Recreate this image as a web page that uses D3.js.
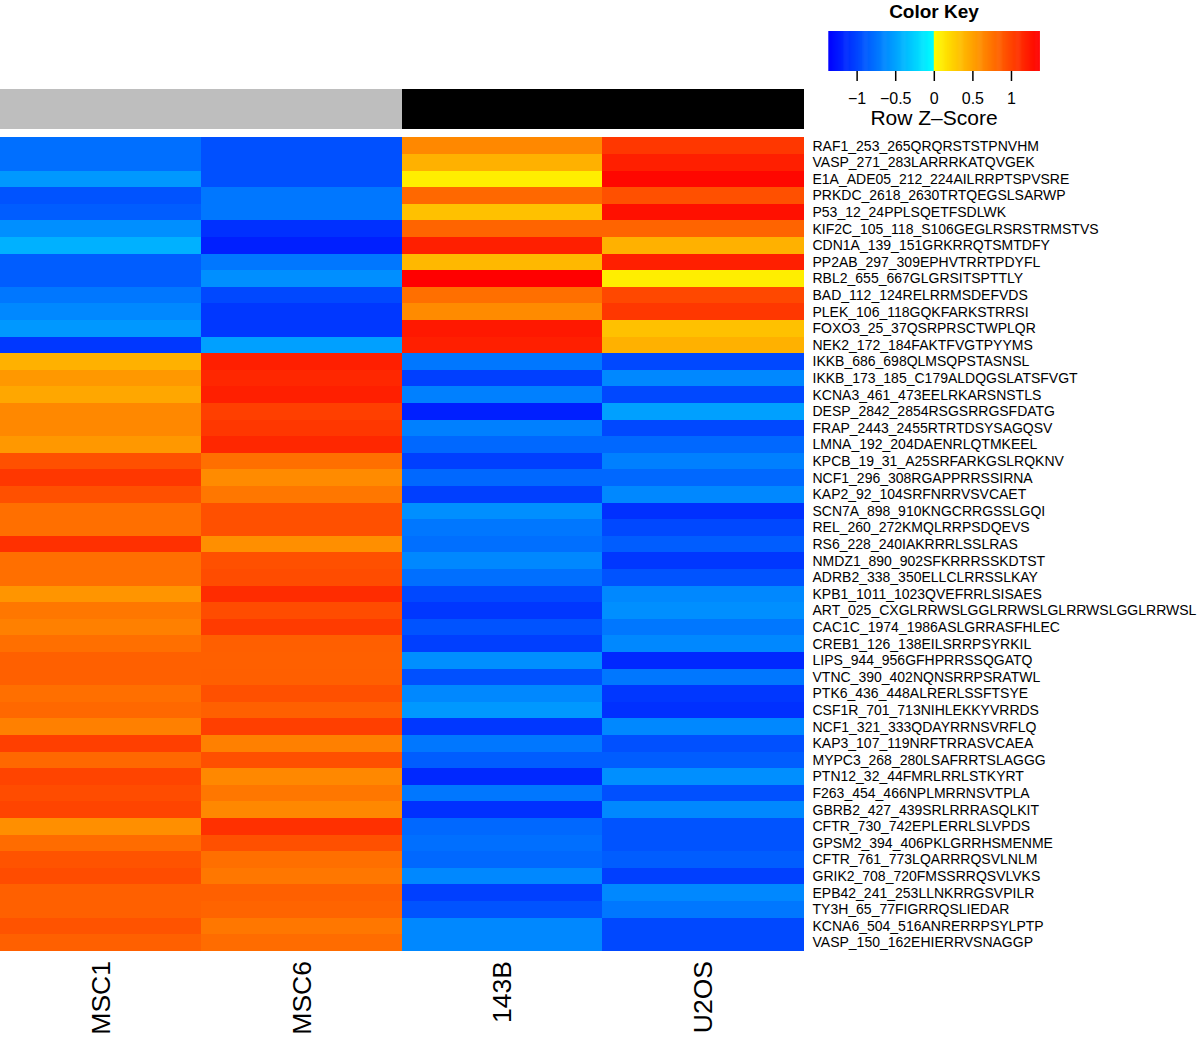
<!DOCTYPE html>
<html>
<head>
<meta charset="utf-8">
<script src="https://cdn.jsdelivr.net/npm/d3@7"></script>
<style>
  html, body { margin: 0; padding: 0; background: #fff; }
  svg { display: block; font-family: "Liberation Sans", Arial, Helvetica, sans-serif; }
</style>
</head>
<body>
<svg id="chart" width="1200" height="1038"></svg>
<script>
// ---------- data ----------
const columns = ["MSC1", "MSC6", "143B", "U2OS"];
const columnGroups = ["MSC", "MSC", "OS", "OS"];

const rowLabels = [
  "RAF1_253_265QRQRSTSTPNVHM",
  "VASP_271_283LARRRKATQVGEK",
  "E1A_ADE05_212_224AILRRPTSPVSRE",
  "PRKDC_2618_2630TRTQEGSLSARWP",
  "P53_12_24PPLSQETFSDLWK",
  "KIF2C_105_118_S106GEGLRSRSTRMSTVS",
  "CDN1A_139_151GRKRRQTSMTDFY",
  "PP2AB_297_309EPHVTRRTPDYFL",
  "RBL2_655_667GLGRSITSPTTLY",
  "BAD_112_124RELRRMSDEFVDS",
  "PLEK_106_118GQKFARKSTRRSI",
  "FOXO3_25_37QSRPRSCTWPLQR",
  "NEK2_172_184FAKTFVGTPYYMS",
  "IKKB_686_698QLMSQPSTASNSL",
  "IKKB_173_185_C179ALDQGSLATSFVGT",
  "KCNA3_461_473EELRKARSNSTLS",
  "DESP_2842_2854RSGSRRGSFDATG",
  "FRAP_2443_2455RTRTDSYSAGQSV",
  "LMNA_192_204DAENRLQTMKEEL",
  "KPCB_19_31_A25SRFARKGSLRQKNV",
  "NCF1_296_308RGAPPRRSSIRNA",
  "KAP2_92_104SRFNRRVSVCAET",
  "SCN7A_898_910KNGCRRGSSLGQI",
  "REL_260_272KMQLRRPSDQEVS",
  "RS6_228_240IAKRRRLSSLRAS",
  "NMDZ1_890_902SFKRRRSSKDTST",
  "ADRB2_338_350ELLCLRRSSLKAY",
  "KPB1_1011_1023QVEFRRLSISAES",
  "ART_025_CXGLRRWSLGGLRRWSLGLRRWSLGGLRRWSL",
  "CAC1C_1974_1986ASLGRRASFHLEC",
  "CREB1_126_138EILSRRPSYRKIL",
  "LIPS_944_956GFHPRRSSQGATQ",
  "VTNC_390_402NQNSRRPSRATWL",
  "PTK6_436_448ALRERLSSFTSYE",
  "CSF1R_701_713NIHLEKKYVRRDS",
  "NCF1_321_333QDAYRRNSVRFLQ",
  "KAP3_107_119NRFTRRASVCAEA",
  "MYPC3_268_280LSAFRRTSLAGGG",
  "PTN12_32_44FMRLRRLSTKYRT",
  "F263_454_466NPLMRRNSVTPLA",
  "GBRB2_427_439SRLRRRASQLKIT",
  "CFTR_730_742EPLERRLSLVPDS",
  "GPSM2_394_406PKLGRRHSMENME",
  "CFTR_761_773LQARRRQSVLNLM",
  "GRIK2_708_720FMSSRRQSVLVKS",
  "EPB42_241_253LLNKRRGSVPILR",
  "TY3H_65_77FIGRRQSLIEDAR",
  "KCNA6_504_516ANRERRPSYLPTP",
  "VASP_150_162EHIERRVSNAGGP"
];

// Row Z-scores per sample column
const zMSC1 = [-0.77,-0.77,-0.55,-0.92,-0.87,-0.60,-0.42,-0.87,-0.87,-0.73,-0.64,-0.55,-1.07,
  0.42,0.55,0.47,0.64,0.64,0.55,0.94,1.07,0.94,0.77,0.77,1.11,0.77,0.77,0.57,0.73,0.68,0.77,
  0.85,0.85,0.77,0.81,0.68,1.03,0.81,1.00,0.96,1.00,0.60,0.79,0.92,0.96,0.85,0.85,0.92,0.85];
const zMSC6 = [-0.94,-0.94,-0.94,-0.73,-0.73,-1.11,-1.20,-0.73,-0.60,-0.98,-1.07,-1.07,-0.51,
  1.20,1.16,1.20,1.03,1.07,1.16,0.77,0.62,0.73,0.94,0.94,0.60,0.94,0.96,1.13,0.96,1.05,0.86,
  0.85,0.86,0.94,0.85,1.03,0.68,0.94,0.64,0.73,0.64,1.11,0.94,0.77,0.73,0.85,0.83,0.73,0.79];
const z143B = [0.64,0.42,0.09,0.81,0.33,0.83,1.20,0.38,1.37,0.77,0.62,1.24,1.20,
  -0.73,-1.03,-0.68,-1.20,-0.68,-0.81,-1.03,-0.81,-1.03,-0.60,-0.73,-0.77,-0.64,-0.77,-0.98,-1.07,-0.92,-1.03,
  -0.60,-0.94,-0.64,-0.55,-1.07,-0.73,-0.87,-1.15,-0.73,-1.11,-0.81,-0.77,-0.81,-0.64,-1.03,-0.92,-0.64,-0.64];
const zU2OS = [1.07,1.20,1.33,0.94,1.28,0.83,0.42,1.20,0.09,0.98,1.07,0.33,0.42,
  -0.98,-0.64,-0.98,-0.51,-0.98,-0.81,-0.68,-0.81,-0.64,-1.11,-0.98,-0.87,-1.07,-0.92,-0.64,-0.60,-0.73,-0.64,
  -1.15,-0.73,-1.07,-1.11,-0.64,-0.94,-0.87,-0.60,-0.94,-0.64,-0.92,-0.92,-0.87,-1.03,-0.64,-0.73,-0.98,-0.98];

const keyTicks = [-1, -0.5, 0, 0.5, 1];
const keyRange = [-1.367, 1.367];

// ---------- drawing ----------
const svg = d3.select("#chart");
const series = [zMSC1, zMSC6, z143B, zU2OS];

const hm = { x0: 0, x1: 803, y0: 137.3, y1: 950.7 };

const x = d3.scaleBand().domain(columns).range([hm.x0, hm.x1]).paddingInner(0).paddingOuter(0);
const y = d3.scaleBand().domain(rowLabels).range([hm.y0, hm.y1]).paddingInner(0).paddingOuter(0);

const negScale = d3.scaleLinear().domain([keyRange[0], 0]).range(["#0000ff", "#00ffff"]).clamp(true);
const posScale = d3.scaleLinear().domain([0, keyRange[1]]).range(["#ffff00", "#ff0000"]).clamp(true);
const color = v => (v < 0 ? negScale(v) : posScale(v));

const groupColor = d3.scaleOrdinal().domain(["MSC", "OS"]).range(["#bebebe", "#000000"]);

// side colour bar
svg.append("g").selectAll("rect")
  .data(columns)
  .join("rect")
  .attr("x", d => x(d))
  .attr("y", 89)
  .attr("width", x.bandwidth() + 1)
  .attr("height", 40.3)
  .attr("fill", (d, i) => groupColor(columnGroups[i]))
  .attr("shape-rendering", "crispEdges");

// heatmap cells
const cells = [];
columns.forEach((c, ci) => {
  rowLabels.forEach((r, ri) => cells.push({ col: c, row: r, v: series[ci][ri] }));
});
svg.append("g").selectAll("rect")
  .data(cells)
  .join("rect")
  .attr("x", d => x(d.col))
  .attr("y", d => y(d.row))
  .attr("width", x.bandwidth() + 0.5)
  .attr("height", y.bandwidth() + 0.5)
  .attr("fill", d => color(d.v))
  .attr("shape-rendering", "crispEdges");

// row labels
svg.append("g").selectAll("text")
  .data(rowLabels)
  .join("text")
  .attr("x", 812.5)
  .attr("y", d => y(d) + y.bandwidth() / 2)
  .attr("dy", "0.36em")
  .attr("font-size", 14)
  .attr("fill", "#000")
  .text(d => d);

// column labels
const colFs = 26.5;
svg.append("g").selectAll("text")
  .data(columns)
  .join("text")
  .attr("transform", d => `translate(${x(d) + x.bandwidth() / 2 + colFs * 0.36},961) rotate(-90)`)
  .attr("text-anchor", "end")
  .attr("font-size", colFs)
  .attr("fill", "#000")
  .text(d => d);

// colour key
const kx = d3.scaleLinear().domain(keyRange).range([828.3, 1039.3]);
const key = svg.append("g");
const steps = d3.range(0, 200).map(i => keyRange[0] + (keyRange[1] - keyRange[0]) * (i + 0.5) / 200);
const stepW = (kx.range()[1] - kx.range()[0]) / 200;
key.selectAll("rect.k")
  .data(steps)
  .join("rect")
  .attr("class", "k")
  .attr("x", d => kx(d) - stepW / 2)
  .attr("y", 31)
  .attr("width", stepW + 0.6)
  .attr("height", 40)
  .attr("fill", d => color(d));

const keyAxis = d3.axisBottom(kx).tickValues(keyTicks).tickSize(10).tickPadding(12)
  .tickFormat(d => (d < 0 ? "\u2212" : "") + Math.abs(d));
const ka = key.append("g").attr("transform", "translate(0,71)").call(keyAxis);
ka.select(".domain").remove();
ka.selectAll(".tick line").attr("stroke", "#000").attr("stroke-width", 1.5);
ka.selectAll(".tick text").attr("font-size", 16).attr("fill", "#000")
  .attr("font-family", "'Liberation Sans', Arial, Helvetica, sans-serif");

key.append("text")
  .attr("x", 934).attr("y", 18)
  .attr("text-anchor", "middle")
  .attr("font-size", 19).attr("font-weight", "bold")
  .text("Color Key");

key.append("text")
  .attr("x", 934).attr("y", 125)
  .attr("text-anchor", "middle")
  .attr("font-size", 21)
  .text("Row Z\u2013Score");
</script>
</body>
</html>
